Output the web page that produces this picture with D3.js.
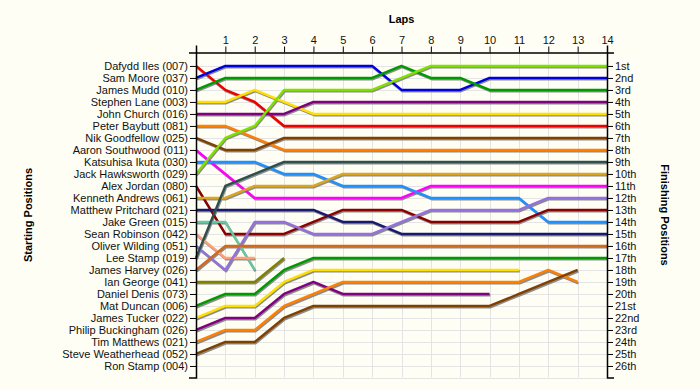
<!DOCTYPE html>
<html>
<head>
<meta charset="utf-8">
<script src="https://cdn.jsdelivr.net/npm/d3@7"></script>
<style>
  body { margin: 0; background: #fefef4; }
  svg { display: block; font-family: "Liberation Sans", Arial, sans-serif; }
  .axis text { font-size: 11px; fill: #111; }
  .axis path, .axis line { stroke: #000; }
  .title { font-size: 11px; font-weight: bold; }
</style>
</head>
<body>
<svg id="chart"></svg>
<script>
// starting grid order
const drivers = [
  'Dafydd Iles (007)', 'Sam Moore (037)', 'James Mudd (010)', 'Stephen Lane (003)',
  'John Church (016)', 'Peter Baybutt (081)', 'Nik Goodfellow (025)', 'Aaron Southwood (011)',
  'Katsuhisa Ikuta (030)', 'Jack Hawksworth (029)', 'Alex Jordan (080)', 'Kenneth Andrews (061)',
  'Matthew Pritchard (021)', 'Jake Green (015)', 'Sean Robinson (042)', 'Oliver Wilding (051)',
  'Lee Stamp (019)', 'James Harvey (026)', 'Ian George (041)', 'Daniel Denis (073)',
  'Mat Duncan (006)', 'James Tucker (022)', 'Philip Buckingham (026)', 'Tim Matthews (021)',
  'Steve Weatherhead (052)', 'Ron Stamp (004)'
];

const colors = [
  '#ee0000', '#0000dd', '#009900', '#ffe000', '#800080', '#ff8000', '#804000', '#ff00ff',
  '#1e90ff', '#7fe000', '#8b0000', '#daa520', '#191970', '#66c8a0', '#ffa07a', '#9370db',
  '#2f4f4f', '#d2691e', '#808000', null,
  '#009900', '#ffe000', '#800080', '#ff8000', '#804000', null
];

// position at lap 0, 1, 2, ... (array ends when the driver stops)
const laps = [
  [1, 3, 4, 6, 6, 6, 6, 6, 6, 6, 6, 6, 6, 6, 6],
  [2, 1, 1, 1, 1, 1, 1, 3, 3, 3, 2, 2, 2, 2, 2],
  [3, 2, 2, 2, 2, 2, 2, 1, 2, 2, 3, 3, 3, 3, 3],
  [4, 4, 3, 4, 5, 5, 5, 5, 5, 5, 5, 5, 5, 5, 5],
  [5, 5, 5, 5, 4, 4, 4, 4, 4, 4, 4, 4, 4, 4, 4],
  [6, 6, 7, 8, 8, 8, 8, 8, 8, 8, 8, 8, 8, 8, 8],
  [7, 8, 8, 7, 7, 7, 7, 7, 7, 7, 7, 7, 7, 7, 7],
  [8, 10, 12, 12, 12, 12, 12, 12, 11, 11, 11, 11, 11, 11, 11],
  [9, 9, 9, 10, 10, 11, 11, 11, 12, 12, 12, 12, 14, 14, 14],
  [10, 7, 6, 3, 3, 3, 3, 2, 1, 1, 1, 1, 1, 1, 1],
  [11, 15, 15, 15, 14, 13, 13, 13, 14, 14, 14, 14, 13, 13, 13],
  [12, 12, 11, 11, 11, 10, 10, 10, 10, 10, 10, 10, 10, 10, 10],
  [13, 13, 13, 13, 13, 14, 14, 15, 15, 15, 15, 15, 15, 15, 15],
  [14, 14, 18],
  [15, 17, 17],
  [16, 18, 14, 14, 15, 15, 15, 14, 13, 13, 13, 13, 12, 12, 12],
  [17, 11, 10, 9, 9, 9, 9, 9, 9, 9, 9, 9, 9, 9, 9],
  [18, 16, 16, 16, 16, 16, 16, 16, 16, 16, 16, 16, 16, 16, 16],
  [19, 19, 19, 17],
  [],
  [21, 20, 20, 18, 17, 17, 17, 17, 17, 17, 17, 17, 17, 17, 17],
  [22, 21, 21, 19, 18, 18, 18, 18, 18, 18, 18, 18],
  [23, 22, 22, 20, 19, 20, 20, 20, 20, 20, 20],
  [24, 23, 23, 21, 20, 19, 19, 19, 19, 19, 19, 19, 18, 19],
  [25, 24, 24, 22, 21, 21, 21, 21, 21, 21, 21, 20, 19, 18],
  []
];

const finishLabels = ['1st', '2nd', '3rd', '4th', '5th', '6th', '7th', '8th', '9th', '10th',
  '11th', '12th', '13th', '14th', '15th', '16th', '17th', '18th', '19th', '20th',
  '21st', '22nd', '23rd', '24th', '25th', '26th'];

const lapCount = 14;

const width = 700, height = 390;
const margin = { top: 52.5, right: 93, bottom: 12.5, left: 196 };

const svg = d3.select('#chart').attr('width', width).attr('height', height);

const x = d3.scaleLinear().domain([0, lapCount]).range([margin.left, width - margin.right]);
const y = d3.scaleLinear().domain([-0.12, 26.96]).range([margin.top, height - margin.bottom]);

const positions = d3.range(1, drivers.length + 1);
const lapTicks = d3.range(0, lapCount + 1);

// grid
const grid = svg.append('g').attr('stroke', '#e4e4e4').attr('stroke-width', 1);
grid.selectAll('.gx').data(lapTicks.slice(1, -1)).enter().append('line')
  .attr('x1', d => Math.round(x(d)) + 0.5).attr('x2', d => Math.round(x(d)) + 0.5)
  .attr('y1', y.range()[0]).attr('y2', y.range()[1]);
grid.selectAll('.gy').data(positions.concat([26.96])).enter().append('line')
  .attr('x1', x.range()[0]).attr('x2', x.range()[1])
  .attr('y1', d => Math.round(y(d)) + 0.5).attr('y2', d => Math.round(y(d)) + 0.5);

// lines
const line = d3.line().x((d, i) => x(i)).y(d => y(d));
const series = laps.map((p, i) => ({ pos: p, color: colors[i] })).filter(d => d.pos.length > 1);

svg.append('g').selectAll('path').data(series).enter().append('path')
  .attr('d', d => line(d.pos))
  .attr('transform', 'translate(0.8,1.3)')
  .attr('fill', 'none').attr('stroke', '#8c8c8c').attr('stroke-width', 2.4)
  .attr('stroke-linejoin', 'round');

svg.append('g').selectAll('path').data(series).enter().append('path')
  .attr('d', d => line(d.pos))
  .attr('fill', 'none').attr('stroke', d => d.color).attr('stroke-width', 2.4)
  .attr('stroke-linejoin', 'round');

// axes
svg.append('g').attr('class', 'axis')
  .attr('transform', `translate(${margin.left},0)`)
  .call(d3.axisLeft(y).tickValues(positions).tickFormat(d => drivers[d - 1]).tickSize(6).tickSizeOuter(7).tickPadding(2));

svg.append('g').attr('class', 'axis')
  .attr('transform', `translate(${width - margin.right},0)`)
  .call(d3.axisRight(y).tickValues(positions).tickFormat(d => finishLabels[d - 1]).tickSize(6).tickSizeOuter(7).tickPadding(2));

svg.append('g').attr('class', 'axis')
  .attr('transform', `translate(0,${margin.top})`)
  .call(d3.axisTop(x).tickValues(lapTicks).tickFormat(d => d === 0 ? '' : d).tickSize(6).tickSizeOuter(7).tickPadding(3));

svg.selectAll('.axis .domain').attr('stroke-width', 1.5);

// titles
svg.append('text').attr('class', 'title')
  .attr('x', (x.range()[0] + x.range()[1]) / 2).attr('y', 23)
  .attr('text-anchor', 'middle').text('Laps');

const midY = (y.range()[0] + y.range()[1]) / 2;
svg.append('text').attr('class', 'title')
  .attr('transform', `translate(32,${midY}) rotate(-90)`)
  .attr('text-anchor', 'middle').text('Starting Positions');

svg.append('text').attr('class', 'title')
  .attr('transform', `translate(661,${midY}) rotate(90)`)
  .attr('text-anchor', 'middle').text('Finishing Positions');
</script>
</body>
</html>
